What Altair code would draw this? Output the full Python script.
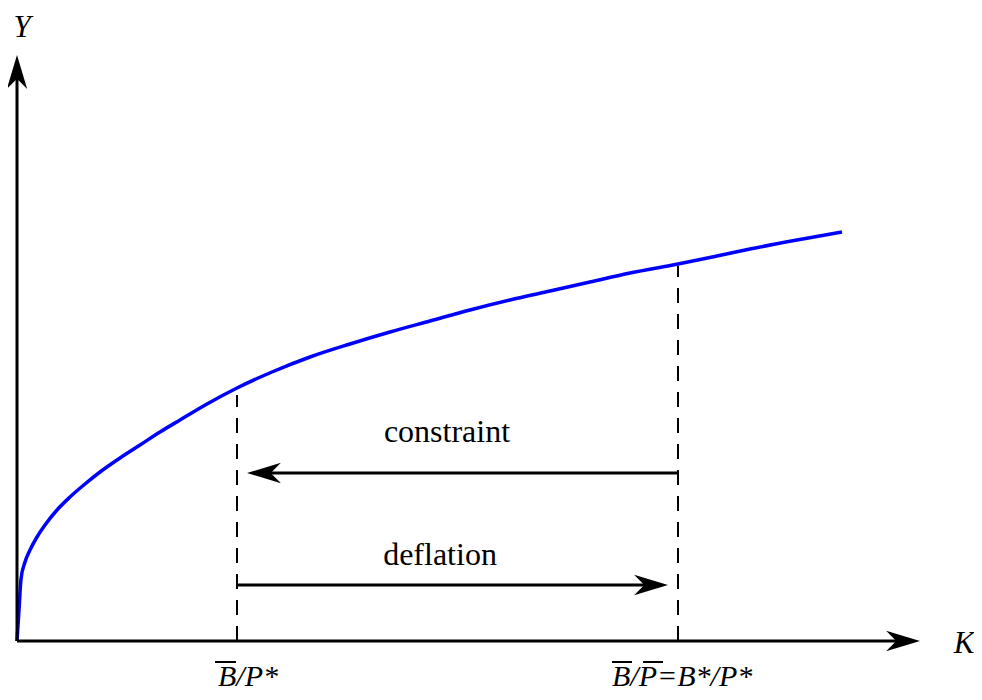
import altair as alt
import pandas as pd

# ---- data (diagram units: K to the right of the origin, Y above it) ----
curve_k = [0, 2, 4, 8, 13, 20, 28, 40, 53, 68, 83, 103, 123, 143, 163, 190, 220, 255, 293, 333, 373, 413, 453, 493, 533, 573, 613, 661, 700, 733, 780, 825]
curve_y = [0, 31, 62, 79, 91, 104, 116, 131, 144, 157, 169, 183, 196, 209, 221, 237, 253, 269, 284, 297, 309, 320, 331, 341, 350, 359, 368, 377, 385, 392, 401, 409]

axis_end_k = 903
axis_end_y = 586

dash_k = [220, 661]
dash_top = [246, 375]

arrow_label = ["constraint", "deflation"]
arrow_from = [661, 220]
arrow_to = [230, 651]
arrow_y = [168, 56]

text_labels = ["constraint", "deflation"]
text_k = [430, 423]
text_y = [199, 76]

tick_labels = ["B/P*", "B/P=B*/P*"]
tick_k = [201, 595]
tick_y = [-45, -45]

bar_k1 = [198, 595, 626]
bar_k2 = [219, 615, 646]
bar_y = [-21, -21, -21]

axis_names = ["Y", "K"]
axis_name_k = [5, 947]
axis_name_y = [604, -12]

XS = alt.Scale(domain=[-9, 957], nice=False, zero=False)
YS = alt.Scale(domain=[-51, 633], nice=False, zero=False)

def X(f):
    return alt.X(f, type="quantitative", scale=XS, axis=None)

def Y(f):
    return alt.Y(f, type="quantitative", scale=YS, axis=None)

curve_df = pd.DataFrame({"k": curve_k, "y": curve_y})
curve = alt.Chart(curve_df).mark_line(color="#0000FF", strokeWidth=3.5, interpolate="monotone").encode(
    x=X("k"), y=Y("y"))

axes_df = pd.DataFrame({
    "k": [0, 0], "k2": [axis_end_k - 20, 0],
    "y": [0, 0], "y2": [0, axis_end_y - 20]})
axes = alt.Chart(axes_df).mark_rule(color="black", strokeWidth=3).encode(
    x=X("k"), x2="k2", y=Y("y"), y2="y2")

dash_df = pd.DataFrame({"k": dash_k, "y": [0, 0], "y2": dash_top})
dashes = alt.Chart(dash_df).mark_rule(color="black", strokeWidth=2, strokeDash=[15, 11]).encode(
    x=X("k"), y=Y("y"), y2="y2")

shaft_df = pd.DataFrame({"name": arrow_label, "k": arrow_from, "k2": arrow_to, "y": arrow_y})
shaft_df["k2"] = [a + (12 if a < b else -12) for a, b in zip(shaft_df["k2"], shaft_df["k"])]
shafts = alt.Chart(shaft_df).mark_rule(color="black", strokeWidth=3).encode(
    x=X("k"), x2="k2", y=Y("y"))

ARROW = "M0,0 L0.6,2 L0,1.4 L-0.6,2 Z"
head_df = pd.DataFrame({
    "k": arrow_to + [axis_end_k, 0],
    "y": arrow_y + [0, axis_end_y],
    "ang": [270, 90, 90, 0]})
heads = alt.Chart(head_df).mark_point(shape=ARROW, filled=True, color="black", opacity=1,
                                      size=1150, strokeWidth=0).encode(
    x=X("k"), y=Y("y"), angle=alt.Angle("ang:Q", scale=None))

txt_df = pd.DataFrame({"t": text_labels, "k": text_k, "y": text_y})
texts = alt.Chart(txt_df).mark_text(font="Liberation Serif", fontSize=32, align="center",
                                    baseline="alphabetic", color="black").encode(
    x=X("k"), y=Y("y"), text="t:N")

tick_df = pd.DataFrame({"t": tick_labels, "k": tick_k, "y": tick_y})
ticks = alt.Chart(tick_df).mark_text(font="Liberation Serif", fontStyle="italic", fontSize=30,
                                     align="left", baseline="alphabetic", color="black").encode(
    x=X("k"), y=Y("y"), text="t:N")

bar_df = pd.DataFrame({"k": bar_k1, "k2": bar_k2, "y": bar_y})
bars = alt.Chart(bar_df).mark_rule(color="black", strokeWidth=2).encode(
    x=X("k"), x2="k2", y=Y("y"))

name_df = pd.DataFrame({"t": axis_names, "k": axis_name_k, "y": axis_name_y})
names = alt.Chart(name_df).mark_text(font="Liberation Serif", fontStyle="italic", fontSize=31,
                                     align="center", baseline="alphabetic", color="black").encode(
    x=X("k"), y=Y("y"), text="t:N")

chart = alt.layer(dashes, curve, axes, shafts, heads, texts, ticks, bars, names).properties(
    width=966, height=684, autosize=alt.AutoSizeParams(type="none"), padding=0
).configure_view(stroke=None)

chart.save("out.html", embed_options={"renderer": "svg", "actions": False})
